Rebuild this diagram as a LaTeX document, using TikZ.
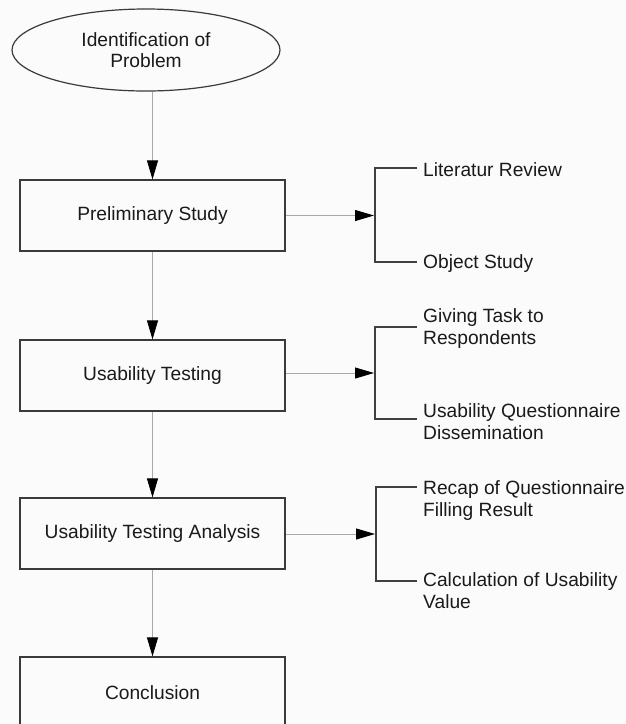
\documentclass[tikz,border=0pt]{standalone}
\usepackage{fontspec}
\setmainfont{Liberation Sans}
\usetikzlibrary{arrows.meta,shapes.geometric}
\definecolor{boxc}{HTML}{3A3A3A}
\definecolor{linec}{HTML}{A8A8A8}
\definecolor{brkc}{HTML}{404040}
\definecolor{txtc}{HTML}{1A1A1A}
\definecolor{bgc}{HTML}{FBFBFB}
\begin{document}
\begin{tikzpicture}[x=1pt,y=-1pt,
  box/.style={draw=boxc, line width=1.2pt, minimum width=265pt, minimum height=71pt, inner sep=0pt, text=txtc, font=\fontsize{19.2}{22}\selectfont},
  oval/.style={ellipse, draw=boxc, line width=1.2pt, minimum width=268pt, minimum height=82pt, inner sep=0pt, align=center, text=txtc, font=\fontsize{19.2}{21}\selectfont},
  flow/.style={draw=linec, line width=0.9pt, -{Triangle[length=19pt,width=11pt,color=black]}},
  brk/.style={draw=brkc, line width=1.2pt},
  lbl/.style={anchor=north west, inner sep=0pt, align=left, text=txtc, font=\fontsize{19.2}{22}\selectfont}]
\fill[bgc] (0,0) rectangle (626,724);
\useasboundingbox (0,0) rectangle (626,724);

% main column
\node[oval] (ell) at (146,50) {Identification of\\Problem};
\node[box] (p1) at (152.5,215.5) {Preliminary Study};
\node[box] (p2) at (152.5,375.5) {Usability Testing};
\node[box] (p3) at (152.5,533.5) {Usability Testing Analysis};
\node[box] (p4) at (152.5,692.5) {Conclusion};

\draw[flow] (ell.south -| p1.north) -- (p1.north);
\draw[flow] (p1.south) -- (p2.north);
\draw[flow] (p2.south) -- (p3.north);
\draw[flow] (p3.south) -- (p4.north);

% bracket 1
\coordinate (m1) at (374,215.5);
\coordinate (b1t) at (375,168);
\coordinate (b1b) at (375,262);
\node[lbl] (l1a) at (423,162) {Literatur Review};
\node[lbl] (l1b) at (423,254) {Object Study};
\draw[brk] ([xshift=-6pt]l1a.west |- b1t) -- (b1t) -- (b1b) -- ([xshift=-6pt]l1b.west |- b1b);
\draw[flow] (p1.east |- m1) -- (m1);

% bracket 2
\coordinate (m2) at (374,373);
\coordinate (b2t) at (375,327);
\coordinate (b2b) at (375,419);
\node[lbl] (l2a) at (423,308) {Giving Task to\\Respondents};
\node[lbl] (l2b) at (423,403) {Usability Questionnaire\\Dissemination};
\draw[brk] ([xshift=-6pt]l2a.west |- b2t) -- (b2t) -- (b2b) -- ([xshift=-6pt]l2b.west |- b2b);
\draw[flow] (p2.east |- m2) -- (m2);

% bracket 3
\coordinate (m3) at (375,534);
\coordinate (b3t) at (376,487);
\coordinate (b3b) at (376,581);
\node[lbl] (l3a) at (423,480) {Recap of Questionnaire\\Filling Result};
\node[lbl] (l3b) at (423,572) {Calculation of Usability\\Value};
\draw[brk] ([xshift=-6pt]l3a.west |- b3t) -- (b3t) -- (b3b) -- ([xshift=-6pt]l3b.west |- b3b);
\draw[flow] (p3.east |- m3) -- (m3);
\end{tikzpicture}
\end{document}
